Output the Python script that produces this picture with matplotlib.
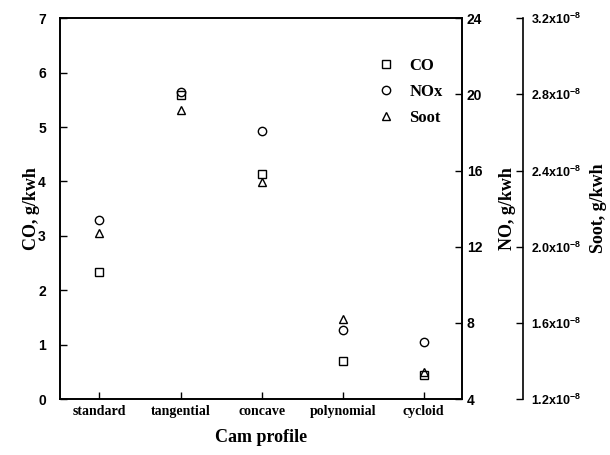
import matplotlib
matplotlib.use('Agg')
import matplotlib.pyplot as plt
from matplotlib.ticker import FixedLocator, FixedFormatter

# data
profiles = ['standard', 'tangential', 'concave', 'polynomial', 'cycloid']
co = [2.34, 5.58, 4.13, 0.70, 0.44]          # g/kwh, left axis
nox = [13.4, 20.1, 18.1, 7.6, 7.0]           # g/kwh, right axis
soot = [2.07e-8, 2.72e-8, 2.34e-8, 1.62e-8, 1.34e-8]  # g/kwh, far right axis

soot_ticks = [1.2e-8, 1.6e-8, 2.0e-8, 2.4e-8, 2.8e-8, 3.2e-8]
soot_labels = ['1.2x10$^{-8}$', '1.6x10$^{-8}$', '2.0x10$^{-8}$',
               '2.4x10$^{-8}$', '2.8x10$^{-8}$', '3.2x10$^{-8}$']

serif = 'Liberation Serif'
sans = 'Liberation Sans'
plt.rcParams['mathtext.fontset'] = 'custom'
plt.rcParams['mathtext.rm'] = 'Liberation Sans:bold'
plt.rcParams['mathtext.default'] = 'rm'

fig = plt.figure(figsize=(6.1, 4.55), dpi=100)
ax = fig.add_axes([0.098, 0.123, 0.659, 0.837])
ax2 = ax.twinx()
ax3 = ax.twinx()

x = list(range(len(profiles)))
mk = dict(linestyle='none', mfc='none', mec='black', mew=1.0, ms=6)
h1, = ax.plot(x, co, marker='s', label='CO', **mk)
h2, = ax2.plot(x, nox, marker='o', label='NOx', **mk)
h3, = ax3.plot(x, soot, marker='^', label='Soot', **mk)

ax.set_xlim(-0.49, 4.47)
ax.set_ylim(0, 7)
ax2.set_ylim(4, 24)
ax3.set_ylim(1.2e-8, 3.2e-8)

ax.set_xticks(x)
ax.set_xticklabels(profiles, fontfamily=serif, fontweight='bold', fontsize=10)
ax.set_yticks(range(0, 8))
ax2.set_yticks([4, 8, 12, 16, 20, 24])
ax3.yaxis.set_major_locator(FixedLocator(soot_ticks))
ax3.yaxis.set_major_formatter(FixedFormatter(soot_labels))

for a in (ax, ax2):
    a.tick_params(direction='in', length=5, width=1.0, labelsize=10)
    for lab in a.get_yticklabels():
        lab.set_fontfamily(sans)
        lab.set_fontweight('bold')
ax.tick_params(axis='x', pad=4)
ax.tick_params(axis='y', pad=10)

ax3.spines['right'].set_position(('axes', 1.152))
for s in ('left', 'top', 'bottom'):
    ax3.spines[s].set_visible(False)
ax3.tick_params(direction='in', length=5, width=1.0, labelsize=9, pad=6)
for lab in ax3.get_yticklabels():
    lab.set_fontfamily(sans)
    lab.set_fontweight('bold')

for a in (ax, ax2, ax3):
    for s in a.spines.values():
        s.set_linewidth(1.2)

lbl = dict(fontfamily=serif, fontweight='bold', fontsize=13)
ax.set_xlabel('Cam profile', labelpad=8, **lbl)
ax.set_ylabel('CO, g/kwh', labelpad=-1, **lbl)
ax2.set_ylabel('NO, g/kwh', labelpad=12, **lbl)
ax3.set_ylabel('Soot, g/kwh', labelpad=6, **lbl)

ax3.legend(handles=[h1, h2, h3], loc='upper right', frameon=False,
           bbox_to_anchor=(0.99, 0.935), handlelength=1.0, handletextpad=0.9,
           labelspacing=0.6, prop={'family': serif, 'weight': 'bold', 'size': 12})

fig.savefig('out.png', dpi=100)
